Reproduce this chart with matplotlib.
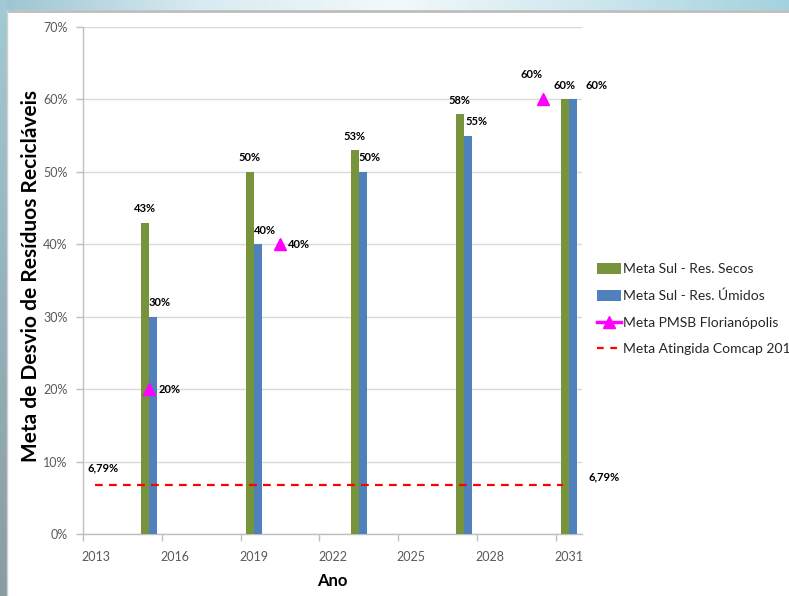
import matplotlib
matplotlib.use('Agg')
import matplotlib.pyplot as plt
import numpy as np
from matplotlib.patches import Rectangle, Patch
from matplotlib.lines import Line2D
from matplotlib.colors import LinearSegmentedColormap

plt.rcParams['font.family'] = ['Lato', 'DejaVu Sans']

# metas por ano (%)
anos_sul = [2015, 2019, 2023, 2027, 2031]
secos = [43, 50, 53, 58, 60]
umidos = [30, 40, 50, 55, 60]
anos_pmsb = [2015, 2020, 2030]
pmsb = [20, 40, 60]
comcap_2014 = 6.79

anos_ticks = [2013, 2016, 2019, 2022, 2025, 2028, 2031]
y_ticks = [0, 10, 20, 30, 40, 50, 60, 70]

VERDE = '#77933C'
AZUL = '#4F81BD'
MAGENTA = '#FF00FF'
VERMELHO = '#FF0000'
CINZA = '#595959'

W, H = 789, 596
fig = plt.figure(figsize=(W / 100, H / 100), dpi=100)

# fundo do slide: faixas em degradê no topo e na esquerda
bg = fig.add_axes([0, 0, 1, 1], zorder=-10)
bg.set_xlim(0, W)
bg.set_ylim(H, 0)
bg.axis('off')
topo = LinearSegmentedColormap.from_list('topo', ['#9cc4d2', '#d8ebf1', '#f2f9fb', '#cfe7ee', '#a3d2de'])
lado = LinearSegmentedColormap.from_list('lado', ['#a3cad6', '#95b2bb', '#8a9da1'])
bg.imshow(np.linspace(0, 1, 256)[None, :], cmap=topo, aspect='auto',
          extent=(0, W, 10, 0))
bg.imshow(np.linspace(0, 1, 256)[:, None], cmap=lado, aspect='auto',
          extent=(0, 7, H, 0))
bg.add_patch(Rectangle((7, 10), W - 7, H - 10, facecolor='white',
                       edgecolor='none'))
bg.plot([7, W], [10.5, 10.5], color='#bdbdbd', lw=2)
bg.plot([7.5, 7.5], [10, H], color='#d0d0d0', lw=1)

ax = fig.add_axes([83 / W, 1 - 534 / H, (582 - 83) / W, (534 - 27) / H])
ax.set_facecolor('none')

# cada ano ocupa uma faixa [ano, ano+1); barras no meio da faixa
larg = 0.3
x_secos = [a + 0.5 - larg / 2 for a in anos_sul]
x_umidos = [a + 0.5 + larg / 2 for a in anos_sul]
x_pmsb = [a + 0.5 for a in anos_pmsb]

ax.bar(x_secos, secos, width=larg, color=VERDE, zorder=3)
ax.bar(x_umidos, umidos, width=larg, color=AZUL, zorder=3)
ax.plot(x_pmsb, pmsb, linestyle='none', marker='^', markersize=9,
        color=MAGENTA, zorder=5)
ax.hlines(comcap_2014, 2013.46, 2031.26, colors=VERMELHO,
          linestyles=(0, (3.5, 2.8)), lw=1.6, zorder=4)

rot = dict(fontsize=8, fontweight='bold', color='black',
           textcoords='offset points', va='center')

for x, v in zip(x_secos, secos):
    ax.annotate(f'{v}%', (x, v), xytext=(0, 10), ha='center', **rot)
offs_umidos = [(5, 10), (5, 10), (5, 10), (6, 10), (17, 10)]
for x, v, o in zip(x_umidos, umidos, offs_umidos):
    ax.annotate(f'{v}%', (x, v), xytext=o, ha='center', **rot)
offs_pmsb = [(7, 0), (6, 0), (-8, 18)]
alin_pmsb = ['left', 'left', 'center']
for x, v, o, a in zip(x_pmsb, pmsb, offs_pmsb, alin_pmsb):
    ax.annotate(f'{v}%', (x, v), xytext=o, ha=a, **rot)
rot_comcap = f'{comcap_2014:.2f}%'.replace('.', ',')
ax.annotate(rot_comcap, (2013.46, comcap_2014), xytext=(6, 12), ha='center', **rot)
ax.annotate(rot_comcap, (2032, comcap_2014), xytext=(16, 6), ha='center',
            annotation_clip=False, **rot)

ax.set_xlim(2013, 2032)
ax.set_ylim(0, 70)
# marcas nas divisas dos anos, rótulos no meio de cada faixa
ax.set_xticks(anos_ticks)
ax.set_xticklabels([])
ax.set_xticks([a + 0.5 for a in anos_ticks], minor=True)
ax.set_xticklabels([str(a) for a in anos_ticks], minor=True)
ax.set_yticks(y_ticks)
ax.set_yticklabels([f'{v}%' for v in y_ticks])
ax.grid(axis='y', color='#d9d9d9', lw=1, zorder=0)
ax.tick_params(axis='both', colors='#bfbfbf', labelcolor=CINZA,
               labelsize=9, length=5, width=1)
ax.tick_params(axis='x', which='minor', length=0, labelsize=9,
               labelcolor=CINZA, pad=12)
ax.tick_params(axis='y', pad=6)
for s in ['top', 'right']:
    ax.spines[s].set_visible(False)
for s in ['left', 'bottom']:
    ax.spines[s].set_color('#bfbfbf')
    ax.spines[s].set_linewidth(1)

ax.set_xlabel('Ano', fontsize=12, fontweight='bold')
ax.xaxis.set_label_coords(0.5, -0.076)
ax.set_ylabel('Meta de Desvio de Resíduos Recicláveis', fontsize=15,
              fontweight='bold')
ax.yaxis.set_label_coords(-0.085, 0.508)

handles = [
    Patch(facecolor=VERDE, label='Meta Sul - Res. Secos'),
    Patch(facecolor=AZUL, label='Meta Sul - Res. Úmidos'),
    Line2D([], [], color=MAGENTA, marker='^', markersize=9, lw=2.5,
           label='Meta PMSB Florianópolis'),
    Line2D([], [], color=VERMELHO, linestyle=(0, (3, 3)), lw=1.6,
           label='Meta Atingida Comcap 2014'),
]
leg = fig.legend(handles=handles, loc='upper left',
                 bbox_to_anchor=(597 / W, 1 - 263 / H), frameon=False,
                 fontsize=10, labelspacing=1.04, handlelength=1.75,
                 handleheight=0.8, handletextpad=0.15, borderaxespad=0,
                 borderpad=0)
for t in leg.get_texts():
    t.set_color('#262626')

fig.savefig('out.png', dpi=100)
